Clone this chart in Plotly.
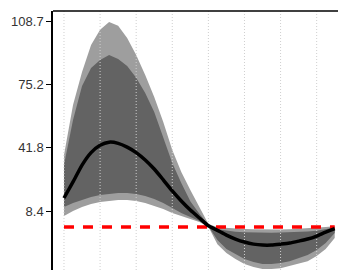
import plotly.graph_objects as go

# ---- data ----
horizon = [0, 0.5, 1, 1.5, 2, 2.5, 3, 3.5, 4, 4.5, 5, 5.5, 6, 6.5, 7, 7.5, 8,
           8.5, 9, 9.5, 10, 10.5, 11, 11.5, 12, 12.5, 13, 13.5, 14, 14.5, 15]
mean_resp = [15.3, 23.8, 32.7, 39.3, 43.2, 44.8, 44.2, 42.2, 39.3, 35.4, 30.6, 24.9, 19.0, 13.7, 8.9, 4.7, 0.6,
             -1.8, -4.3, -6.4, -8.0, -9.1, -9.6, -9.6, -9.1, -8.5, -7.5, -6.4, -4.8, -2.7, -0.9]
outer_upper = [38.0, 64.5, 81.9, 96.2, 104.2, 108.4, 106.3, 99.9, 90.9, 80.3, 68.7, 55.5, 40.7, 29.0, 19.5, 10.5, 1.5,
               -0.2, -0.6, -0.9, -1.1, -1.2, -1.3, -1.3, -1.3, -1.2, -1.0, -0.8, -0.5, -0.1, 0.3]
inner_upper = [32.7, 56.5, 74.5, 84.0, 88.3, 90.9, 88.8, 85.1, 78.8, 70.8, 60.8, 47.0, 33.8, 23.2, 13.6, 7.0, 1.1,
               -1.2, -2.0, -2.5, -2.8, -3.0, -3.1, -3.1, -3.0, -2.9, -2.7, -2.4, -2.0, -1.2, -0.3]
inner_lower = [10.5, 12.6, 14.2, 15.8, 16.9, 17.4, 17.9, 17.9, 17.4, 16.3, 14.7, 12.6, 10.0, 7.3, 5.2, 3.1, 0.3,
               -6.9, -11.7, -14.3, -17.0, -18.6, -19.6, -19.6, -19.1, -18.1, -16.5, -14.9, -12.2, -8.5, -3.2]
outer_lower = [5.8, 8.4, 10.5, 12.1, 13.2, 13.7, 14.2, 14.2, 13.7, 12.6, 11.0, 9.5, 7.3, 5.8, 4.2, 2.6, 0.1,
               -9.1, -13.8, -17.0, -19.6, -21.2, -22.3, -22.3, -21.8, -20.7, -19.6, -18.1, -15.4, -11.7, -5.9]
baseline_x = [0, 15]
baseline_y = [0, 0]
ytick_vals = [-25.0, 8.4, 41.8, 75.2, 108.7]
ytick_text = ["-25.0", "8.4", "41.8", "75.2", "108.7"]
xgrid_vals = [0, 2, 4, 6, 8, 10, 12, 14]

Y_RANGE = [-30.7, 114.15]
X_RANGE = [-0.609, 15.57]
BAND = dict(shape="linear")

fig = go.Figure()

fig.add_trace(go.Scatter(x=horizon, y=outer_lower, mode="lines",
                         line=dict(width=0, **BAND),
                         showlegend=False, hoverinfo="skip"))
fig.add_trace(go.Scatter(x=horizon, y=outer_upper, mode="lines", fill="tonexty",
                         fillcolor="#9e9e9e",
                         line=dict(width=0, **BAND),
                         showlegend=False, hoverinfo="skip"))
fig.add_trace(go.Scatter(x=horizon, y=inner_lower, mode="lines",
                         line=dict(width=0, **BAND),
                         showlegend=False, hoverinfo="skip"))
fig.add_trace(go.Scatter(x=horizon, y=inner_upper, mode="lines", fill="tonexty",
                         fillcolor="#636363",
                         line=dict(width=0, **BAND),
                         showlegend=False, hoverinfo="skip"))

# dotted vertical grid drawn above the bands
gx, gy = [], []
for v in xgrid_vals:
    gx += [v, v, None]
    gy += [Y_RANGE[0], Y_RANGE[1], None]
fig.add_trace(go.Scatter(x=gx, y=gy, mode="lines",
                         line=dict(color="#cfcfcf", width=1, dash="1px,2px"),
                         showlegend=False, hoverinfo="skip"))

fig.add_trace(go.Scatter(x=baseline_x, y=baseline_y, mode="lines",
                         line=dict(color="#ff0000", width=3.5, dash="10px,9px"),
                         showlegend=False, hoverinfo="skip"))
fig.add_trace(go.Scatter(x=horizon, y=mean_resp, mode="lines",
                         line=dict(color="#000000", width=3.5, shape="spline", smoothing=0.6),
                         showlegend=False, hoverinfo="skip"))

fig.update_layout(
    width=346, height=300,
    margin=dict(l=45, r=9, t=3, b=23),
    paper_bgcolor="white", plot_bgcolor="white",
    font=dict(family="Liberation Sans, Arial, sans-serif", size=13, color="#333333"),
    xaxis=dict(range=X_RANGE, showgrid=False, zeroline=False, showticklabels=False,
               ticks="", showline=False),
    yaxis=dict(range=Y_RANGE, showgrid=False, zeroline=False,
               tickvals=ytick_vals, ticktext=ytick_text,
               ticks="outside", ticklen=5, tickwidth=1.2, tickcolor="#000000",
               showline=True, linecolor="#000000", linewidth=1.5,
               tickfont=dict(size=13, color="#333333")),
    shapes=[
        dict(type="line", xref="paper", yref="paper", x0=0, x1=1, y0=1, y1=1,
             line=dict(color="#000000", width=1.5)),
        dict(type="line", xref="paper", yref="paper", x0=1, x1=1, y0=0, y1=1,
             line=dict(color="#dddddd", width=1)),
    ],
)

fig.write_html("out.html")
